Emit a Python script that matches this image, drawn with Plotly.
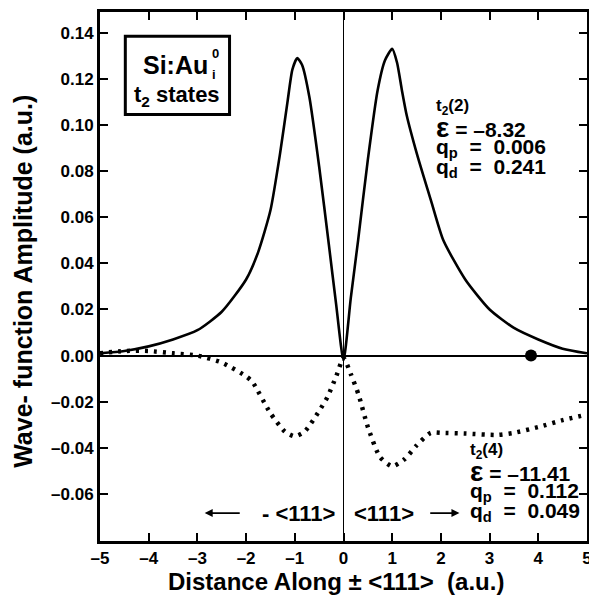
import plotly.graph_objects as go

# ---- data ----
x_t2_2 = [-5, -4.5, -4, -3.5, -3, -2.5, -2, -1.75, -1.5, -1.3, -1.15, -1.05, -0.95, -0.85, -0.7, -0.5, -0.3, -0.15, 0,
          0.15, 0.3, 0.5, 0.7, 0.85, 1.0, 1.1, 1.2, 1.3, 1.5, 1.64, 1.8, 2.05, 2.5, 3.0, 3.5, 4.0, 4.5, 5]
y_t2_2 = [0.001, 0.002, 0.004, 0.007, 0.011, 0.019, 0.033, 0.045, 0.063, 0.088, 0.110, 0.124, 0.129, 0.126, 0.112, 0.082, 0.048, 0.022, -0.002,
          0.025, 0.050, 0.085, 0.115, 0.128, 0.133, 0.127, 0.115, 0.104, 0.088, 0.078, 0.067, 0.050, 0.033, 0.020, 0.012, 0.007, 0.003, 0.001]

x_t2_4 = [-5, -4.5, -4, -3.5, -3, -2.5, -2, -1.87, -1.5, -1.2, -1.0, -0.8, -0.5, -0.33, -0.15, 0,
          0.15, 0.31, 0.5, 0.75, 1.0, 1.25, 1.5, 1.79, 2.0, 2.5, 3.16, 3.5, 4.0, 4.5, 4.97]
y_t2_4 = [0.001, 0.002, 0.002, 0.001, 0.0, -0.003, -0.009, -0.0114, -0.025, -0.033, -0.035, -0.033, -0.024, -0.018, -0.009, -0.001,
          -0.008, -0.017, -0.031, -0.044, -0.048, -0.045, -0.039, -0.0335, -0.0335, -0.0338, -0.0344, -0.0335, -0.031, -0.028, -0.0257]

dot_x = [3.85]
dot_y = [0.0]

x_ticks = [-5, -4, -3, -2, -1, 0, 1, 2, 3, 4, 5]
x_ticktext = ["–5", "–4", "–3", "–2", "–1", "0", "1", "2", "3", "4", "5"]
y_ticks = [-0.06, -0.04, -0.02, 0.0, 0.02, 0.04, 0.06, 0.08, 0.10, 0.12, 0.14]
y_ticktext = ["–0.06", "–0.04", "–0.02", "0.00", "0.02", "0.04", "0.06", "0.08", "0.10", "0.12", "0.14"]

x_title = "Distance Along ± <111>  (a.u.)"
y_title = "Wave- function Amplitude (a.u.)"

FONT = "Liberation Sans, Arial, Helvetica, sans-serif"

fig = go.Figure()
fig.add_trace(go.Scatter(x=x_t2_2, y=y_t2_2, mode="lines", line=dict(color="black", width=2.6, shape="spline", smoothing=0.6),
                         showlegend=False, hoverinfo="skip"))
fig.add_trace(go.Scatter(x=x_t2_4, y=y_t2_4, mode="lines", line=dict(color="black", width=4.5, dash="3px,6px", shape="spline", smoothing=0.6),
                         showlegend=False, hoverinfo="skip"))
fig.add_trace(go.Scatter(x=dot_x, y=dot_y, mode="markers", marker=dict(color="black", size=12),
                         showlegend=False, hoverinfo="skip"))

axis_common = dict(showline=True, linewidth=3, linecolor="black", mirror="ticks", ticks="inside",
                   ticklen=8, tickwidth=1.5, tickcolor="black", showgrid=False, automargin=False,
                   tickfont=dict(family=FONT, size=17, color="black", weight="bold"))

fig.update_xaxes(range=[-5, 5], tickvals=x_ticks, ticktext=x_ticktext, zeroline=True, zerolinecolor="black",
                 zerolinewidth=1.2, **axis_common)
fig.update_yaxes(range=[-0.0804, 0.149], tickvals=y_ticks, ticktext=y_ticktext, zeroline=True, zerolinecolor="black",
                 zerolinewidth=1.5, **axis_common)

ann = []
def txt(x, y, t, size=17, xanchor="left"):
    ann.append(dict(x=x, y=y, xref="x", yref="y", text=t, showarrow=False, xanchor=xanchor, yanchor="middle",
                    font=dict(family=FONT, size=size, color="black", weight="bold")))

# axis titles
ann.append(dict(x=0.485, y=-0.077, xref="paper", yref="paper", text=x_title, showarrow=False,
                xanchor="center", yanchor="middle", font=dict(family=FONT, size=24, color="black", weight="bold")))
ann.append(dict(x=-0.158, y=0.49, xref="paper", yref="paper", text=y_title, showarrow=False, textangle=-90,
                xanchor="center", yanchor="middle", font=dict(family=FONT, size=25, color="black", weight="bold")))

# box label
txt(-3.45, 0.1262, "Si:Au", size=25, xanchor="center")
txt(-2.74, 0.1312, "0", size=13)
txt(-2.74, 0.1220, "i", size=13)
txt(-3.42, 0.1125, "t<sub>2</sub> states", size=22, xanchor="center")

# t2(2)
txt(1.85, 0.1080, "t<sub>2</sub>(2)", size=17)
txt(1.85, 0.0990, "<span style='font-size:28px'>ε</span>&nbsp;=&nbsp;–8.32", size=21)
txt(1.85, 0.0900, "q<sub>p</sub>&nbsp;&nbsp;=&nbsp;&nbsp;0.006", size=21)
txt(1.85, 0.0812, "q<sub>d</sub>&nbsp;&nbsp;=&nbsp;&nbsp;0.241", size=21)

# t2(4)
txt(2.55, -0.0415, "t<sub>2</sub>(4)", size=17)
txt(2.55, -0.0503, "<span style='font-size:28px'>ε</span>&nbsp;=&nbsp;–11.41", size=21)
txt(2.55, -0.0592, "q<sub>p</sub>&nbsp;&nbsp;=&nbsp;&nbsp;0.112", size=21)
txt(2.55, -0.0680, "q<sub>d</sub>&nbsp;&nbsp;=&nbsp;&nbsp;0.049", size=21)

# direction labels
txt(-0.93, -0.0683, "-&nbsp;&lt;111&gt;", size=22, xanchor="center")
txt(0.84, -0.0683, "&lt;111&gt;", size=22, xanchor="center")
ann.append(dict(x=-2.85, y=-0.0683, ax=-2.1, ay=-0.0683, xref="x", yref="y", axref="x", ayref="y", text="",
                showarrow=True, arrowhead=2, arrowsize=1, arrowwidth=1.6, arrowcolor="black"))
ann.append(dict(x=2.38, y=-0.0683, ax=1.75, ay=-0.0683, xref="x", yref="y", axref="x", ayref="y", text="",
                showarrow=True, arrowhead=2, arrowsize=1, arrowwidth=1.6, arrowcolor="black"))

# the page body has an 8 px margin, so the figure is 8 px smaller and margins are shifted to compensate
fig.update_layout(
    width=589, height=589,
    margin=dict(l=92, r=10, t=4, b=56),
    paper_bgcolor="white", plot_bgcolor="white",
    annotations=ann,
    shapes=[dict(type="rect", xref="x", yref="y", x0=-4.48, x1=-2.34, y0=0.1045, y1=0.1385,
                 line=dict(color="black", width=3))],
)

fig.write_html("out.html")
